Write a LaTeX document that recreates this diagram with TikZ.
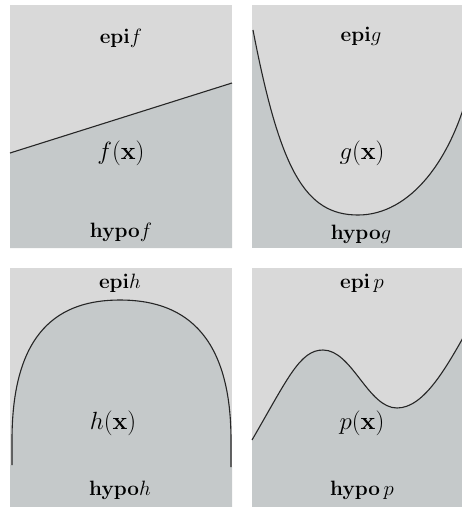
\documentclass[tikz,border=0pt]{standalone}
\usepackage{amsmath}
\usepackage{xcolor}
\usepackage{tikz}

\definecolor{epicol}{RGB}{217,217,217}
\definecolor{hypocol}{RGB}{197,201,202}

\begin{document}
\begin{tikzpicture}[x=1pt, y=-1pt,
    curve/.style={black!85, line width=1.1pt},
    lbl/.style={font=\fontsize{22}{26}\selectfont},
    fx/.style={font=\fontsize{29}{34}\selectfont}]
      \useasboundingbox (0,0) rectangle (462,507);
      \clip (0,0) rectangle (462,507);

      \fill[epicol] (10,5) rectangle (232,248);
      \fill[hypocol] (10,153) -- (232,83) -- (232,248) -- (10,248) -- cycle;
      \draw[curve] (10,153) -- (232,83);
      \node[lbl] (epif) at (121,38) {$\mathbf{epi}f$};
      \node[fx] (fx) at (121,153) {$f(\mathbf{x})$};
      \node[lbl] (hypof) at (121,232) {$\mathbf{hypo}f$};

      \fill[hypocol] (252,5) rectangle (474,248);
      \fill[epicol] (253,30) .. controls (280,170) and (305,215) .. (358,215)
        .. controls (410,215) and (452,160) .. (470,85) -- (474,5) -- (252,5) -- (252,30) -- cycle;
      \draw[curve] (253,30) .. controls (280,170) and (305,215) .. (358,215)
        .. controls (410,215) and (452,160) .. (470,85);
      \node[lbl] (epig) at (361,36) {$\mathbf{epi}g$};
      \node[fx] (gx) at (362,153) {$g(\mathbf{x})$};
      \node[lbl] (hypog) at (361,234) {$\mathbf{hypo}g$};

      \fill[epicol] (10,268) rectangle (232,511);
      \fill[hypocol] (12,465) -- (12,440) .. controls (12,330) and (60,300) .. (120,300)
        .. controls (180,300) and (231,330) .. (231,440) -- (231,467)
        -- (232,467) -- (232,511) -- (10,511) -- (10,465) -- cycle;
      \draw[curve] (12,465) -- (12,440) .. controls (12,330) and (60,300) .. (120,300)
        .. controls (180,300) and (231,330) .. (231,440) -- (231,467);
      \node[lbl] (epih) at (120,283) {$\mathbf{epi}h$};
      \node[fx] (hx) at (113,423) {$h(\mathbf{x})$};
      \node[lbl] (hypoh) at (120,490) {$\mathbf{hypo}h$};

      \fill[epicol] (252,268) rectangle (474,511);
      \fill[hypocol] (252,440) .. controls (288,378) and (300,350) .. (323,350)
        .. controls (352,350) and (368,408) .. (397,408)
        .. controls (425,408) and (448,365) .. (474,318) -- (474,511) -- (252,511) -- cycle;
      \draw[curve] (252,440) .. controls (288,378) and (300,350) .. (323,350)
        .. controls (352,350) and (368,408) .. (397,408)
        .. controls (425,408) and (448,365) .. (474,318);
      \node[lbl] (epip) at (362,283) {$\mathbf{epi}\,p$};
      \node[fx] (px) at (362,423) {$p(\mathbf{x})$};
      \node[lbl] (hypop) at (362,490) {$\mathbf{hypo}\,p$};
    \end{tikzpicture}
\end{document}
